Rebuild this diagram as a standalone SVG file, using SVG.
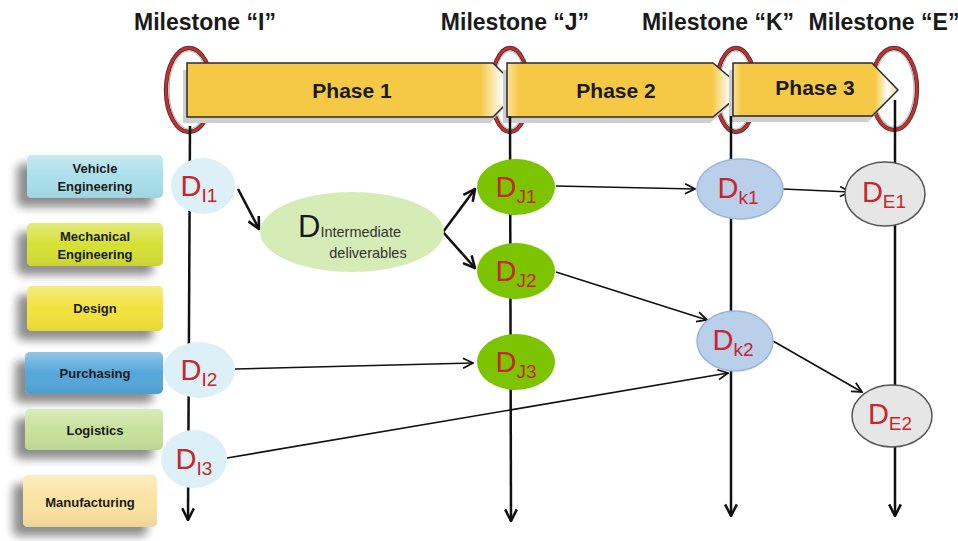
<svg xmlns="http://www.w3.org/2000/svg" width="958" height="541" viewBox="0 0 958 541">
<defs>
<style>
.ms{font-family:"Liberation Sans",Arial,sans-serif;font-weight:bold;font-size:23px;fill:#1a1a1a;text-anchor:middle}
.ph{font-family:"Liberation Sans",Arial,sans-serif;font-weight:bold;font-size:21px;fill:#1a1a1a;text-anchor:middle}
.bar{stroke:#2a2a2a;stroke-width:1.5}
.lane{font-family:"Liberation Sans",Arial,sans-serif;font-weight:bold;font-size:13px;fill:#1a1a1a;text-anchor:middle}
.lbl{font-family:"Liberation Sans",Arial,sans-serif;fill:#c8262c;text-anchor:middle}
.big{font-size:29px}
.sub{font-size:19px}
.vl{stroke:#111;stroke-width:2.5;fill:none}
.c1{stroke:#111;stroke-width:1.6;fill:none}
.c2{stroke:#111;stroke-width:2.6;fill:none}
.mo{fill:none;stroke:#3a3a3a;stroke-width:4.4}
.mr{fill:none;stroke:#d42a2a;stroke-width:2.6}
.mi{fill:none;stroke:#bdbdbd;stroke-width:1.2}
.nI{fill:#ddf0f7}
.nJ{fill:#7cc400}
.nK{fill:#b9cfea;stroke:#97b6dd;stroke-width:1.5}
.nE{fill:#e6e6e6;stroke:#555;stroke-width:1.5}
</style>
<marker id="a1" viewBox="0 0 12 12" refX="11" refY="6" markerWidth="12" markerHeight="12" markerUnits="userSpaceOnUse" orient="auto">
<path d="M1,1 L11,6 L1,11" fill="none" stroke="#111" stroke-width="1.8"/>
</marker>
<marker id="a2" viewBox="0 0 12 12" refX="11" refY="6" markerWidth="14" markerHeight="14" markerUnits="userSpaceOnUse" orient="auto">
<path d="M1,1 L11,6 L1,11" fill="none" stroke="#111" stroke-width="2.2"/>
</marker>
<linearGradient id="gold" x1="0" y1="0" x2="1" y2="0">
<stop offset="0" stop-color="#fbe39a"/>
<stop offset="0.05" stop-color="#f5c845"/>
<stop offset="0.86" stop-color="#f5c845"/>
<stop offset="0.94" stop-color="#ffffff"/>
<stop offset="1" stop-color="#f7d777"/>
</linearGradient>
<linearGradient id="gold1" x1="0" y1="0" x2="1" y2="0">
<stop offset="0" stop-color="#f5c845"/>
<stop offset="0.88" stop-color="#f5c845"/>
<stop offset="0.95" stop-color="#ffffff"/>
<stop offset="1" stop-color="#f7d777"/>
</linearGradient>
<filter id="sh" x="-30%" y="-40%" width="160%" height="200%">
<feGaussianBlur in="SourceAlpha" stdDeviation="5"/>
<feOffset dx="-10" dy="9"/>
<feComponentTransfer><feFuncA type="linear" slope="0.45"/></feComponentTransfer>
<feMerge><feMergeNode/><feMergeNode in="SourceGraphic"/></feMerge>
</filter>
<linearGradient id="gl" x1="0" y1="0" x2="0" y2="1">
<stop offset="0" stop-color="#fff" stop-opacity="0.35"/>
<stop offset="0.5" stop-color="#fff" stop-opacity="0"/>
<stop offset="1" stop-color="#000" stop-opacity="0.06"/>
</linearGradient>
</defs>
<rect width="958" height="541" fill="#ffffff"/>

<g id="milestones">
<text class="ms" x="205" y="30">Milestone “I”</text>
<text class="ms" x="515" y="30">Milestone “J”</text>
<text class="ms" x="718" y="30">Milestone “K”</text>
<text class="ms" x="884" y="30">Milestone “E”</text>
<g id="ring-I"><ellipse class="mo" cx="189" cy="90" rx="23" ry="42"/><ellipse class="mr" cx="189" cy="90" rx="23" ry="42"/><ellipse class="mi" cx="189" cy="90" rx="20" ry="39"/></g>
<g id="ring-J"><ellipse class="mo" cx="510" cy="90" rx="19" ry="42"/><ellipse class="mr" cx="510" cy="90" rx="19" ry="42"/><ellipse class="mi" cx="510" cy="90" rx="16" ry="39"/></g>
<g id="ring-K"><ellipse class="mo" cx="736" cy="90" rx="20" ry="42"/><ellipse class="mr" cx="736" cy="90" rx="20" ry="42"/><ellipse class="mi" cx="736" cy="90" rx="17" ry="39"/></g>
<g id="ring-E"><ellipse class="mo" cx="894" cy="89" rx="23" ry="41"/><ellipse class="mr" cx="894" cy="89" rx="23" ry="41"/><ellipse class="mi" cx="894" cy="89" rx="20" ry="38"/></g>
</g>

<g id="phases">
<g id="phase1">
<path d="M183,70 H490 L515,96 L490,123 H183 Z" fill="#cfcfcf"/>
<path class="bar" d="M187,63 H493 L520,90 L493,117 H187 Z" fill="url(#gold1)"/>
<text class="ph" x="352" y="98">Phase 1</text>
</g>
<g id="phase2">
<path d="M503,70 H710 L740,96 L710,123 H503 Z" fill="#cfcfcf"/>
<path class="bar" d="M507,63 H713 L745,90 L713,117 H507 Z" fill="url(#gold)"/>
<text class="ph" x="616" y="98">Phase 2</text>
</g>
<g id="phase3">
<path d="M729,70 H868 L893,96 L868,122 H729 Z" fill="#cfcfcf"/>
<path class="bar" d="M733,63 H872 L898,90 L872,116 H733 Z" fill="url(#gold)"/>
<text class="ph" x="815" y="95">Phase 3</text>
</g>
</g>

<g id="lanes">
<g id="lane-vehicle"><rect x="27" y="155" width="136" height="43" rx="5" fill="#a9dfea" filter="url(#sh)"/><rect x="27" y="155" width="136" height="43" rx="5" fill="url(#gl)"/><text class="lane" x="95" y="173">Vehicle</text><text class="lane" x="95" y="191">Engineering</text></g>
<g id="lane-mech"><rect x="27" y="223" width="136" height="43" rx="5" fill="#d5e036" filter="url(#sh)"/><rect x="27" y="223" width="136" height="43" rx="5" fill="url(#gl)"/><text class="lane" x="95" y="241">Mechanical</text><text class="lane" x="95" y="259">Engineering</text></g>
<g id="lane-design"><rect x="27" y="286" width="136" height="45" rx="5" fill="#f2e23e" filter="url(#sh)"/><rect x="27" y="286" width="136" height="45" rx="5" fill="url(#gl)"/><text class="lane" x="95" y="313">Design</text></g>
<g id="lane-purch"><rect x="25" y="352" width="138" height="42" rx="5" fill="#55a7da" filter="url(#sh)"/><rect x="25" y="352" width="138" height="42" rx="5" fill="url(#gl)"/><text class="lane" x="95" y="378">Purchasing</text></g>
<g id="lane-log"><rect x="25" y="409" width="138" height="41" rx="5" fill="#c6e19b" filter="url(#sh)"/><rect x="25" y="409" width="138" height="41" rx="5" fill="url(#gl)"/><text class="lane" x="95" y="435">Logistics</text></g>
<g id="lane-manu"><rect x="23" y="475" width="134" height="52" rx="5" fill="#fbe2a0" filter="url(#sh)"/><rect x="23" y="475" width="134" height="52" rx="5" fill="url(#gl)"/><text class="lane" x="90" y="507">Manufacturing</text></g>
</g>

<g id="connectors">
<path class="vl" d="M190,126 L188,520" marker-end="url(#a2)"/>
<path class="vl" d="M510,116 L511,521" marker-end="url(#a2)"/>
<path class="vl" d="M731,116 L731,516" marker-end="url(#a2)"/>
<path class="vl" d="M895,100 L895,516" marker-end="url(#a2)"/>
<path class="c2" d="M238,189 L259,229" marker-end="url(#a2)"/>
<path class="c2" d="M443,232 L475,189" marker-end="url(#a2)"/>
<path class="c2" d="M443,232 L475,268" marker-end="url(#a2)"/>
<path class="c1" d="M556,186 L695,189" marker-end="url(#a1)"/>
<path class="c1" d="M783,189 L850,192" marker-end="url(#a1)"/>
<path class="c1" d="M556,272 L707,320" marker-end="url(#a1)"/>
<path class="c1" d="M773,341 L862,392" marker-end="url(#a1)"/>
<path class="c1" d="M235,369 L473,363" marker-end="url(#a1)"/>
<path class="c1" d="M227,458 L728,373" marker-end="url(#a1)"/>
</g>

<g id="node-DI1"><ellipse class="nI" cx="203" cy="186" rx="32" ry="28"/><text class="lbl" x="199" y="196"><tspan class="big">D</tspan><tspan class="sub" dy="6">I1</tspan></text></g>
<g id="node-DI2"><ellipse class="nI" cx="199" cy="370" rx="36" ry="28"/><text class="lbl" x="199" y="380"><tspan class="big">D</tspan><tspan class="sub" dy="6">I2</tspan></text></g>
<g id="node-DI3"><ellipse class="nI" cx="194" cy="459" rx="33" ry="29"/><text class="lbl" x="194" y="469"><tspan class="big">D</tspan><tspan class="sub" dy="6">I3</tspan></text></g>
<g id="node-inter"><ellipse cx="352" cy="232" rx="92" ry="40" fill="#d6ecb7"/>
<text x="298" y="237" font-family="'Liberation Sans',Arial,sans-serif" fill="#1a1a1a"><tspan font-size="31">D</tspan><tspan font-size="14.5" fill="#333">Intermediate</tspan></text>
<text x="368" y="258" font-family="'Liberation Sans',Arial,sans-serif" font-size="14.5" fill="#333" text-anchor="middle">deliverables</text></g>
<g id="node-DJ1"><ellipse class="nJ" cx="516" cy="187" rx="39" ry="28"/><text class="lbl" x="516" y="197"><tspan class="big">D</tspan><tspan class="sub" dy="6">J1</tspan></text></g>
<g id="node-DJ2"><ellipse class="nJ" cx="516" cy="271" rx="39" ry="28"/><text class="lbl" x="516" y="281"><tspan class="big">D</tspan><tspan class="sub" dy="6">J2</tspan></text></g>
<g id="node-DJ3"><ellipse class="nJ" cx="516" cy="362" rx="39" ry="28"/><text class="lbl" x="516" y="372"><tspan class="big">D</tspan><tspan class="sub" dy="6">J3</tspan></text></g>
<g id="node-Dk1"><ellipse class="nK" cx="740" cy="189" rx="43" ry="30"/><text class="lbl" x="738" y="198"><tspan class="big">D</tspan><tspan class="sub" dy="6">k1</tspan></text></g>
<g id="node-Dk2"><ellipse class="nK" cx="735" cy="341" rx="38" ry="30"/><text class="lbl" x="733" y="350"><tspan class="big">D</tspan><tspan class="sub" dy="6">k2</tspan></text></g>
<g id="node-DE1"><ellipse class="nE" cx="885" cy="194" rx="40" ry="32"/><text class="lbl" x="884" y="202"><tspan class="big">D</tspan><tspan class="sub" dy="6">E1</tspan></text></g>
<g id="node-DE2"><ellipse class="nE" cx="892" cy="416" rx="40" ry="31"/><text class="lbl" x="890" y="424"><tspan class="big">D</tspan><tspan class="sub" dy="6">E2</tspan></text></g>
</svg>
